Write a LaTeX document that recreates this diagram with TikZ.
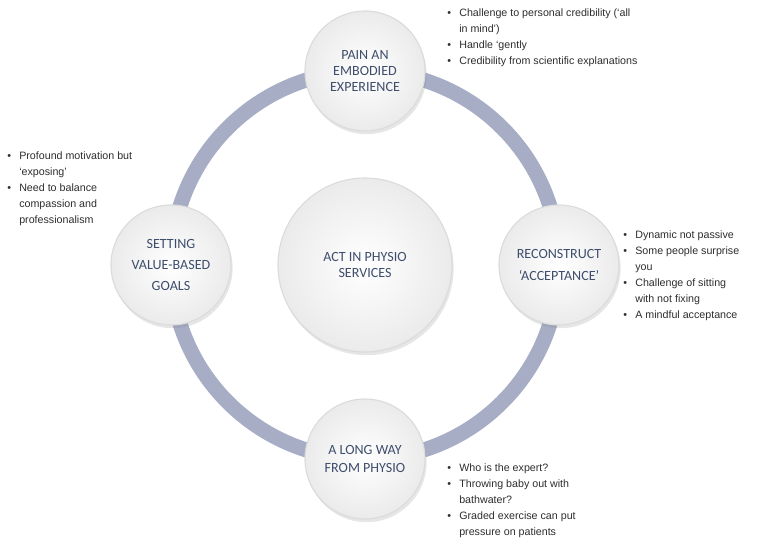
\documentclass[tikz,border=0pt]{standalone}
\usepackage{fontspec}
\usepackage{tikz}
\usetikzlibrary{shadows}
\newfontfamily\circfont{Carlito}
\newfontfamily\notefont{Liberation Sans}
\definecolor{ringgray}{RGB}{168,173,198}
\definecolor{labelblue}{RGB}{62,78,108}
\definecolor{notegray}{RGB}{45,45,45}
\tikzset{
  stage/.style={circle, minimum size=3cm, inner sep=0pt, align=center,
    inner color=white, outer color=gray!16, draw=gray!28, line width=0.8pt,
    drop shadow={opacity=0.2, shadow xshift=0.4mm, shadow yshift=-0.8mm},
    text=labelblue, font=\circfont\fontsize{10}{#1}\selectfont},
  stage/.default=12,
  hub/.style={stage=12, minimum size=4.35cm},
  notes/.style={anchor=north west, inner sep=0pt, text=notegray,
    font=\notefont\fontsize{7.6}{11.4}\selectfont},
}

\begin{document}
\begin{tikzpicture}
    \useasboundingbox (0,0) rectangle (19,13.525);
    % Ring
    \coordinate (hub) at (9.125,6.9);
    \draw[ringgray, line width=0.375cm] (hub) circle (4.85);
    % Nodes
    \node[hub] (act) at (hub) {ACT IN PHYSIO\\SERVICES};
    \node[stage=11.5] (pain) at (9.125,11.75) {PAIN AN\\EMBODIED\\EXPERIENCE};
    \node[stage=15] (accept) at (13.975,6.9) {RECONSTRUCT\\‘ACCEPTANCE’};
    \node[stage=12.5] (longway) at (9.125,2.05) {A LONG WAY\\FROM PHYSIO};
    \node[stage=15] (goals) at (4.275,6.9) {SETTING\\VALUE-BASED\\GOALS};
    % Notes
    \node[notes] (painnotes) at (11.175,13.405) {\begin{tabular}{@{}p{0.3cm}@{}l@{}}
      \textbullet & Challenge to personal credibility (‘all\\
                  & in mind’)\\
      \textbullet & Handle ‘gently\\
      \textbullet & Credibility from scientific explanations
    \end{tabular}};
    \node[notes] (goalsnotes) at (0.175,9.825) {\begin{tabular}{@{}p{0.3cm}@{}l@{}}
      \textbullet & Profound motivation but\\
                  & ‘exposing’\\
      \textbullet & Need to balance\\
                  & compassion and\\
                  & professionalism
    \end{tabular}};
    \node[notes] (acceptnotes) at (15.575,7.85) {\begin{tabular}{@{}p{0.3cm}@{}l@{}}
      \textbullet & Dynamic not passive\\
      \textbullet & Some people surprise\\
                  & you\\
      \textbullet & Challenge of sitting\\
                  & with not fixing\\
      \textbullet & A mindful acceptance
    \end{tabular}};
    \node[notes] (longwaynotes) at (11.175,2.025) {\begin{tabular}{@{}p{0.3cm}@{}l@{}}
      \textbullet & Who is the expert?\\
      \textbullet & Throwing baby out with\\
                  & bathwater?\\
      \textbullet & Graded exercise can put\\
                  & pressure on patients
    \end{tabular}};
\end{tikzpicture}
\end{document}
